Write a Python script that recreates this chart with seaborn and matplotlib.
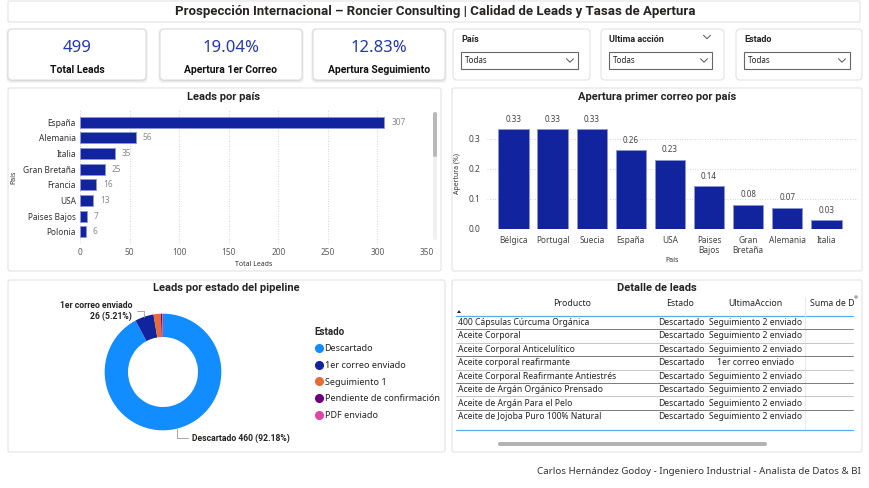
import matplotlib
matplotlib.use("Agg")
import numpy as np
import pandas as pd
import seaborn as sns
import matplotlib.pyplot as plt
from matplotlib.patches import FancyBboxPatch, Rectangle
from matplotlib.lines import Line2D

# ---- datos ----
kpi_values = ["499", "19.04%", "12.83%"]
kpi_labels = ["Total Leads", "Apertura 1er Correo", "Apertura Seguimiento"]

slicer_titles = ["País", "Ultima acción", "Estado"]

paises_leads = ["España", "Alemania", "Italia", "Gran Bretaña", "Francia", "USA", "Paises Bajos", "Polonia"]
total_leads = [307, 56, 35, 25, 16, 13, 7, 6]

paises_apertura = ["Bélgica", "Portugal", "Suecia", "España", "USA", "Paises\nBajos", "Gran\nBretaña", "Alemania", "Italia"]
apertura = [0.333, 0.333, 0.333, 0.262, 0.231, 0.143, 0.08, 0.071, 0.029]

estados = ["Descartado", "1er correo enviado", "Seguimiento 1", "Pendiente de confirmación", "PDF enviado"]
leads_estado = [460, 26, 10, 2, 1]
colores_estado = ["#118DFF", "#12239E", "#E66C37", "#6B007B", "#E044A7"]

tabla_cols = ["Producto", "Estado", "UltimaAccion", "Suma de D"]
tabla_producto = ["400 Cápsulas Cúrcuma Orgánica", "Aceite Corporal", "Aceite Corporal Anticelulítico",
                  "Aceite corporal reafirmante", "Aceite Corporal Reafirmante Antiestrés",
                  "Aceite de Argán Orgánico Prensado", "Aceite de Argán Para el Pelo",
                  "Aceite de Jojoba Puro 100% Natural"]
tabla_estado = ["Descartado"] * 8
tabla_accion = ["Seguimiento 2 enviado", "Seguimiento 2 enviado", "Seguimiento 2 enviado", "1er correo enviado",
                "Seguimiento 2 enviado", "Seguimiento 2 enviado", "Seguimiento 2 enviado", "Seguimiento 2 enviado"]

azul = "#12239E"
gris_txt = "#605E5C"
negrita = ["Roboto", "DejaVu Sans"]

sns.set_theme(style="white")
plt.rcParams["font.family"] = ["Noto Sans", "DejaVu Sans"]

W, H = 870, 488
fig = plt.figure(figsize=(8.7, 4.88), dpi=100)
fig.patch.set_facecolor("white")


def px_axes(x, y, w, h):
    a = fig.add_axes([x / W, 1 - (y + h) / H, w / W, h / H])
    a.set_facecolor("none")
    return a


bg = px_axes(0, 0, W, H)
bg.set_xlim(0, W)
bg.set_ylim(H, 0)
bg.axis("off")


def panel(x, y, w, h, r=3, shadow=False, ec="#e3e3e3"):
    if shadow:
        for i, al in enumerate([0.04, 0.05, 0.06]):
            p = 3 - i
            bg.add_patch(FancyBboxPatch((x - p + 1, y - p + 2), w + 2 * p - 2, h + 2 * p - 2,
                                        boxstyle="round,pad=0,rounding_size=5",
                                        fc="#000000", ec="none", alpha=al))
    bg.add_patch(FancyBboxPatch((x, y), w, h, boxstyle=f"round,pad=0,rounding_size={r}",
                                fc="white", ec=ec, lw=0.8))


def chevron(cx, cy, s=3.5, c="#555555"):
    bg.plot([cx - s, cx, cx + s], [cy - s / 2, cy + s / 2, cy - s / 2], color=c, lw=0.7)


# ---- titulo ----
panel(8, 1, 852, 21, r=1)
bg.text(435, 12, "Prospección Internacional – Roncier Consulting | Calidad de Leads y Tasas de Apertura",
        ha="center", va="center", fontsize=9.5, fontweight="bold", color="#252423", family=negrita)

# ---- KPIs ----
kpi_x = [(8, 138), (160, 142), (313, 132)]
for (x, w), v, l in zip(kpi_x, kpi_values, kpi_labels):
    panel(x, 29, w, 51, r=4, shadow=True, ec="#dddddd")
    bg.text(x + w / 2, 48, v, ha="center", va="center", fontsize=12, color="#2438B0")
    bg.text(x + w / 2, 70, l, ha="center", va="center", fontsize=7.5, fontweight="bold",
            color="#111111", family=negrita)

# ---- filtros ----
slicer_x = [(453, 137), (601, 123), (736, 126)]
for (x, w), t in zip(slicer_x, slicer_titles):
    panel(x, 29, w, 51, r=4)
    bg.text(x + 8, 40, t, ha="left", va="center", fontsize=6.5, fontweight="bold",
            color="#252423", family=negrita)
    bg.add_patch(Rectangle((x + 8, 52), w - 20, 17, fc="white", ec="#666666", lw=0.8))
    bg.text(x + 12, 60.5, "Todas", ha="left", va="center", fontsize=5.8, color="#252423")
    chevron(x + w - 20, 60.5)
chevron(707, 37)

# ---- Leads por pais ----
panel(8, 88, 433, 183, r=2)
bg.text(224, 97, "Leads por país", ha="center", va="center", fontsize=8, fontweight="bold",
        color="#252423", family=negrita)
bg.add_patch(FancyBboxPatch((433, 112), 4, 128, boxstyle="round,pad=0,rounding_size=2",
                            fc="#f0f0f0", ec="none"))
bg.add_patch(FancyBboxPatch((433, 112), 4, 45, boxstyle="round,pad=0,rounding_size=2",
                            fc="#b9b9b9", ec="none"))

ax1 = px_axes(80, 110, 347, 134)
df1 = pd.DataFrame({"País": paises_leads, "Total Leads": total_leads})
sns.barplot(data=df1, y="País", x="Total Leads", orient="h", color=azul, saturation=1,
            width=0.7, edgecolor="#8d96d6", linewidth=0.6, ax=ax1)
ax1.set_xlim(0, 350)
ax1.set_ylim(7.77, -0.77)
ax1.set_xticks(range(0, 351, 50))
ax1.bar_label(ax1.containers[0], padding=5, fontsize=6, color="#8a8a8a")
ax1.grid(axis="x", linestyle=(0, (1, 2)), color="#c8c8c8", lw=0.6)
ax1.set_axisbelow(True)
for s in ax1.spines.values():
    s.set_visible(False)
ax1.tick_params(axis="both", length=0, labelsize=6, colors=gris_txt, pad=3)
ax1.tick_params(axis="y", labelcolor="#333333")
ax1.set_xlabel("Total Leads", fontsize=5, color="#333333", labelpad=3)
ax1.set_ylabel("País", fontsize=5, color="#333333", labelpad=4)

# ---- Apertura primer correo ----
panel(452, 88, 410, 183, r=2)
bg.text(657, 97, "Apertura primer correo por país", ha="center", va="center", fontsize=8,
        fontweight="bold", color="#252423", family=negrita)

ax2 = px_axes(487, 118, 371, 111)
df2 = pd.DataFrame({"País": paises_apertura, "Apertura": apertura})
sns.barplot(data=df2, x="País", y="Apertura", color=azul, saturation=1, width=0.78,
            edgecolor="#8d96d6", linewidth=0.6, ax=ax2)
ax2.set_xlim(-0.68, 8.81)
ax2.set_ylim(0, 0.37)
ax2.set_yticks([0, 0.1, 0.2, 0.3])
ax2.set_yticklabels(["0.0", "0.1", "0.2", "0.3"])
ax2.bar_label(ax2.containers[0], labels=[f"{v:.2f}" for v in apertura], padding=4,
              fontsize=5.8, color="#444444")
ax2.grid(axis="y", linestyle=(0, (1, 2)), color="#c8c8c8", lw=0.6)
ax2.set_axisbelow(True)
for s in ax2.spines.values():
    s.set_visible(False)
ax2.tick_params(axis="both", length=0, labelsize=6, colors="#444444", pad=5)
ax2.set_xlabel("País", fontsize=5, color="#333333", labelpad=1)
ax2.set_ylabel("Apertura (%)", fontsize=5, color="#333333", labelpad=5)

# ---- Donut ----
panel(8, 280, 437, 172, r=2)
bg.text(226, 288, "Leads por estado del pipeline", ha="center", va="center", fontsize=8,
        fontweight="bold", color="#252423", family=negrita)

ax3 = px_axes(163 - 70, 372 - 70, 140, 140)
wedges, _ = ax3.pie(leads_estado, colors=colores_estado, startangle=90, counterclock=False,
                    wedgeprops=dict(width=0.4, edgecolor="none"))
ax3.set_xlim(-1.2, 1.2)
ax3.set_ylim(-1.2, 1.2)
total = sum(leads_estado)


def mid_point(w):
    a = np.deg2rad((w.theta1 + w.theta2) / 2)
    return np.cos(a), np.sin(a)


lbl_pos = {0: ((0.5, -1.13), "left"), 1: ((-0.53, 1.05), "right")}
for i, ((tx, ty), ha) in lbl_pos.items():
    pct = leads_estado[i] / total * 100
    if i == 0:
        txt = f"{estados[i]} {leads_estado[i]} ({pct:.2f}%)"
    else:
        txt = f"{estados[i]}\n{leads_estado[i]} ({pct:.2f}%)"
    ax3.annotate(txt, xy=mid_point(wedges[i]), xytext=(tx, ty), ha=ha, va="center",
                 multialignment=ha, fontsize=6.2, fontweight="bold", color="#252423",
                 family=negrita, annotation_clip=False,
                 arrowprops=dict(arrowstyle="-", color="#9a9a9a", lw=0.6, shrinkA=1, shrinkB=0,
                                 connectionstyle="angle,angleA=0,angleB=90,rad=0"))

handles = [Line2D([], [], marker="o", ls="", ms=5.5, color=c) for c in colores_estado]
leg = ax3.legend(handles, estados, loc="upper left", bbox_to_anchor=(311 / W, 1 - 323 / H),
                 bbox_transform=fig.transFigure, frameon=False, title="Estado", fontsize=6.5,
                 title_fontsize=7, alignment="left", handletextpad=0.1, handlelength=1.0,
                 labelspacing=0.85, borderaxespad=0)
leg.get_title().set_fontweight("bold")
leg.get_title().set_family(negrita)
for t in leg.get_texts():
    t.set_color("#252423")

# ---- Tabla ----
panel(452, 280, 410, 172, r=2)
bg.text(657, 288, "Detalle de leads", ha="center", va="center", fontsize=8, fontweight="bold",
        color="#252423", family=negrita)
col_x = [572, 680, 755, 810]
col_ha = ["center", "center", "center", "left"]
for cx, ha, c in zip(col_x, col_ha, tabla_cols):
    bg.text(cx, 304, c, ha=ha, va="center", fontsize=6.3, color="#252423", clip_on=True)
bg.add_patch(plt.Polygon([[457, 313], [461, 313], [459, 310]], closed=True, fc="#252423", ec="none"))
bg.add_patch(plt.Circle((856, 297), 1.8, fc="#aaaaaa", ec="none"))
bg.plot([456, 853], [315.5, 315.5], color="#5aaaf0", lw=0.9)
bg.plot([805, 805], [297, 429], color="#e6e6e6", lw=0.6)
row_h = 13.45
for i, (p, e, a) in enumerate(zip(tabla_producto, tabla_estado, tabla_accion)):
    y = 322.5 + i * row_h
    bg.text(458, y, p, ha="left", va="center", fontsize=6.2, color="#252423")
    bg.text(681, y, e, ha="center", va="center", fontsize=6.2, color="#252423")
    bg.text(756, y, a, ha="center", va="center", fontsize=6.2, color="#252423")
    if i < 7:
        yl = y + row_h / 2
        bg.plot([456, 853], [yl, yl], color="#666666" if i % 2 == 0 else "#bdbdbd", lw=0.6)
bg.plot([456, 853], [429.5, 429.5], color="#5aaaf0", lw=0.9)
bg.add_patch(FancyBboxPatch((498, 442), 269, 4, boxstyle="round,pad=0,rounding_size=2",
                            fc="#b3b3b3", ec="none"))

# ---- pie de pagina ----
bg.text(861, 472, "Carlos Hernández Godoy - Ingeniero Industrial - Analista de Datos & BI",
        ha="right", va="center", fontsize=7, color="#333333")

fig.savefig("out.png", dpi=100, facecolor="white")
